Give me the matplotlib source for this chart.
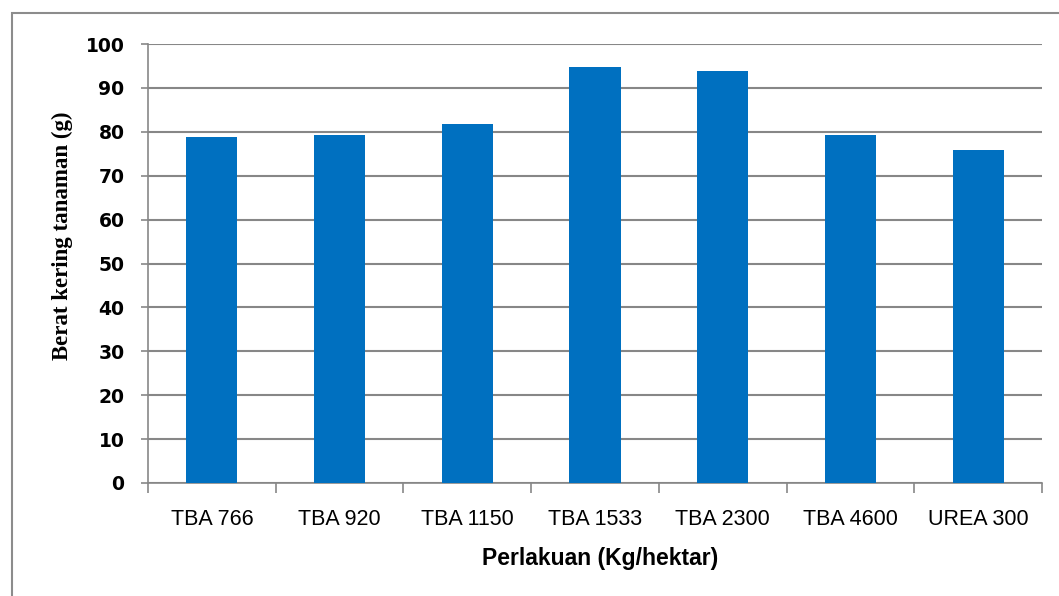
import numpy as np
import matplotlib.pyplot as plt
from matplotlib.patches import Rectangle

# dry weight per treatment
perlakuan = ["TBA 766", "TBA 920", "TBA 1150", "TBA 1533", "TBA 2300", "TBA 4600", "UREA 300"]
berat_kering = [78.8, 79.3, 81.8, 94.7, 93.8, 79.3, 75.9]
y_ticks = [0, 10, 20, 30, 40, 50, 60, 70, 80, 90, 100]

W, H = 1059, 596
fig = plt.figure(figsize=(W / 100, H / 100), dpi=100)
ax = fig.add_axes([148 / W, 1 - 483 / H, (1042 - 148) / W, (483 - 44) / H])

x = np.arange(len(perlakuan))
ax.bar(x, berat_kering, width=0.4, color="#0070C0", zorder=3)

grid_col = "#878787"
ax.set_ylim(0, 100)
ax.set_xlim(-0.5, len(perlakuan) - 0.5)
ax.set_yticks(y_ticks)
ax.set_yticklabels([str(v) for v in y_ticks], fontfamily="DejaVu Sans",
                   fontweight="bold", fontsize=13.5)
ax.yaxis.grid(True, color=grid_col, linewidth=1.5, zorder=0)
ax.tick_params(axis="y", length=5, width=1.2, color=grid_col, pad=12)

# category labels in the middle, tick marks on the boundaries
ax.set_xticks(x)
ax.set_xticklabels(perlakuan, fontfamily="Liberation Sans", fontsize=15.5)
ax.tick_params(axis="x", which="major", length=0, pad=19)
ax.set_xticks(np.arange(len(perlakuan) + 1) - 0.5, minor=True)
ax.tick_params(axis="x", which="minor", length=7, width=1.2, color=grid_col)

for side in ["top", "right"]:
    ax.spines[side].set_visible(False)
for side in ["left", "bottom"]:
    ax.spines[side].set_color(grid_col)
    ax.spines[side].set_linewidth(1.2)

fig.text(62 / W, 1 - 236 / H, "Berat kering tanaman (g)", rotation=90,
         ha="center", va="center", fontfamily="Liberation Serif",
         fontweight="bold", fontsize=16.5)
fig.text(600 / W, 1 - 558 / H, "Perlakuan (Kg/hektar)", ha="center",
         va="center", fontfamily="Liberation Sans", fontweight="bold",
         fontsize=16.5)

# chart frame
fig.patches.append(Rectangle((12 / W, -0.1), 1.2, 1.1 - 13 / H,
                             transform=fig.transFigure, fill=False,
                             edgecolor="#8c8c8c", linewidth=1.5,
                             clip_on=False))

fig.savefig("out.png", dpi=100)
